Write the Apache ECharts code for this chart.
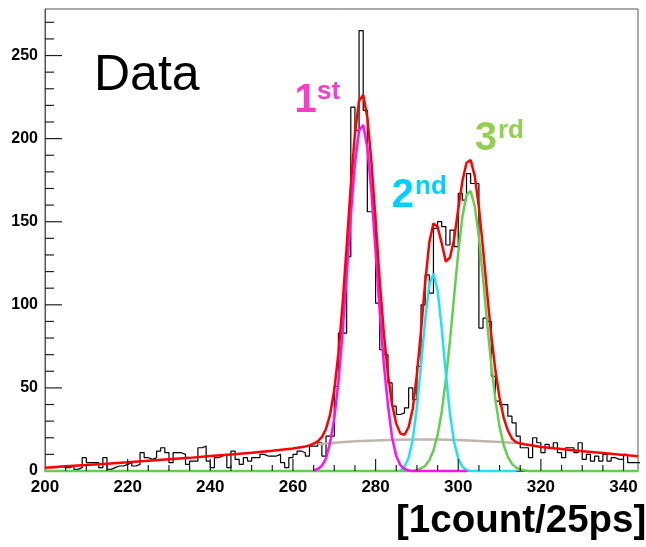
<!DOCTYPE html>
<html>
<head>
<meta charset="utf-8">
<script src="https://cdn.jsdelivr.net/npm/echarts@6/dist/echarts.min.js"></script>
<style>
  html, body { margin: 0; padding: 0; background: #fff; }
  #main { width: 646px; height: 547px; background: #fff; }
</style>
</head>
<body>
<div id="main"></div>
<script>
// Histogram: one count per 1-unit bin, first bin starts at 200
const histStart = 200;
const histCounts = [
  2, 2, 2, 3, 2, 2, 3, 1, 2, 8,        // 200-209
  5, 5, 5, 2, 8, 1, 2, 3, 3, 4,        // 210-219
  5, 3, 4, 11, 8, 7, 8, 12, 14, 11,    // 220-229
  5, 11, 11, 10, 4, 6, 6, 14, 15, 6,   // 230-239
  2, 8, 9, 10, 2, 12, 7, 4, 8, 6,      // 240-249
  8, 8, 10, 9, 9, 9, 10, 5, 2, 8,      // 250-259
  10, 12, 11, 9, 15, 15, 17, 9, 21, 21,// 260-269
  51, 83, 83, 129, 219, 205, 265, 217, 156, 156, // 270-279
  101, 73, 70, 53, 39, 34, 35, 38, 50, 43,       // 280-289
  63, 100, 118, 107, 146, 150, 147, 136, 145, 135, // 290-299
  167, 163, 179, 173, 173, 86, 92, 90, 57, 42,   // 300-309
  40, 40, 33, 29, 21, 14, 14, 8, 20, 17,         // 310-319
  11, 16, 14, 17, 11, 8, 14, 14, 11, 17,         // 320-329
  7, 10, 6, 9, 6, 10, 6, 8, 7, 7,                // 330-339
  10, 5, 5, 5                                    // 340-343
];

// Total fit (red)
const totalX = [200, 205, 210, 215, 220, 225, 230, 235, 240, 245, 250, 255, 260, 263, 264,
  265, 266, 267, 268, 269, 270, 271, 272, 273, 274, 275, 276, 277, 278, 279,
  280, 281, 282, 283, 284, 285, 286, 287, 288, 289, 290, 291, 292, 293, 294,
  295, 296, 297, 298, 299, 300, 301, 302, 303, 304, 305, 306, 307, 308, 309,
  310, 311, 312, 313, 314, 315, 316, 318, 320, 325, 330, 335, 340, 343.5];
const totalY = [2.0, 2.8, 3.6, 4.4, 5.2, 6.1, 7.0, 7.9, 9.0, 10.0, 11.0, 12.2, 13.6, 14.8, 15.4,
  16.5, 17.8, 20.4, 25.3, 34.1, 48.7, 70.6, 100.0, 135.2, 171.7, 203.0, 222.7, 226.3, 212.9, 185.7,
  150.7, 114.6, 82.8, 58.0, 40.0, 28.5, 22.5, 21.8, 26.5, 37.5, 58.3, 84.4, 113.3, 137.6, 149.0,
  147.0, 137.0, 126.0, 128.5, 139.5, 157.5, 174.3, 185.5, 187.1, 177.6, 158.7, 133.8, 106.9, 81.6, 60.3,
  44.1, 32.0, 24.5, 19.5, 17.3, 16.6, 16.1, 15.3, 14.4, 13.2, 11.9, 10.8, 9.7, 8.9];

// Background component (grey)
const bgX = [266, 270, 275, 280, 285, 290, 295, 300, 305, 310, 314];
const bgY = [16.1, 17.0, 17.9, 18.4, 18.8, 19.0, 19.0, 18.6, 18.0, 17.4, 16.8];

// 1st peak (magenta)
const peak1X = [265, 266, 267, 268, 269, 270, 271, 272, 273, 274, 275, 276, 277, 278, 279,
  280, 281, 282, 283, 284, 285, 286, 287, 288, 289, 302];
const peak1Y = [0.3, 1.2, 3.2, 7.5, 17.3, 31.7, 53.4, 82.6, 117.6, 153.9, 185.1, 204.7, 208.2, 194.7, 167.4,
  132.3, 96.1, 64.2, 39.4, 20.0, 9.0, 3.5, 1.2, 0.3, 0, 0];

// 2nd peak (cyan)
const peak2X = [286, 287, 288, 289, 290, 291, 292, 293, 294, 295, 296, 297, 298, 299, 300, 301, 302, 303, 314];
const peak2Y = [0.5, 2.5, 8.0, 19.0, 38.6, 63.9, 91.1, 112.1, 118.9, 108.8, 85.9, 58.5, 34.3, 17.4, 7.6, 2.6, 0.6, 0, 0];

// 3rd peak (green)
const peak3X = [200, 289, 290, 291, 292, 293, 294, 295, 296, 297, 298, 299, 300, 301, 302, 303, 304,
  305, 306, 307, 308, 309, 310, 311, 312, 313, 314, 315, 316, 317, 343.5];
const peak3Y = [0, 0, 0.6, 1.5, 3.2, 6.5, 12.3, 21.7, 35.7, 54.9, 78.6, 105.2, 131.3, 152.9, 166.2, 168.5, 159.4,
  140.7, 115.9, 89.1, 63.9, 42.8, 26.7, 15.5, 8.5, 4.3, 2.0, 0.9, 0.4, 0, 0];

// Tick positions
const xMajorTicks = [220, 240, 260, 280, 300, 320, 340];
const xMinorTicks = [205, 210, 215, 225, 230, 235, 245, 250, 255, 265, 270, 275, 285, 290, 295,
  305, 310, 315, 325, 330, 335];
const yMajorTicks = [50, 100, 150, 200, 250];
const yMinorTicks = [10, 20, 30, 40, 60, 70, 80, 90, 110, 120, 130, 140, 160, 170, 180, 190,
  210, 220, 230, 240, 260, 270];

const zip = (xs, ys) => xs.map((x, i) => [x, ys[i]]);

// step outline: each bin drawn from its left edge, closing point at the last right edge
const histData = histCounts.map((c, i) => [histStart + i, c]);
histData.push([histStart + histCounts.length, histCounts[histCounts.length - 1]]);

const X_MIN = 200, X_MAX = 343.5, Y_MIN = 0, Y_MAX = 278;
const GRID = { left: 45, right: 8, top: 9, bottom: 76 };
const plotW = 646 - GRID.left - GRID.right;
const plotH = 547 - GRID.top - GRID.bottom;
// tick lengths in pixels, turned into axis units
const pxPerX = plotW / (X_MAX - X_MIN);
const pxPerY = plotH / (Y_MAX - Y_MIN);

const frameColor = '#555';
const tickColor = '#222';
const labelFont = { fontFamily: 'Liberation Sans', fontWeight: 'bold', color: '#000' };

function lineSeries(name, data, color, width, z, clip) {
  return {
    name, type: 'line', data, showSymbol: false, symbol: 'none', smooth: false,
    lineStyle: { color, width }, z, clip
  };
}

// inward tick marks, one short segment per tick value
function tickSeries(values, axis, lengthPx) {
  return values.map(v => ({
    type: 'line', showSymbol: false, symbol: 'none', z: 9, clip: false,
    lineStyle: { color: tickColor, width: 1.2 },
    data: axis === 'x'
      ? [[v, Y_MIN], [v, Y_MIN + lengthPx / pxPerY]]
      : [[X_MIN, v], [X_MIN + lengthPx / pxPerX, v]]
  }));
}

function label(text, x, y, size, color, bold) {
  return {
    type: 'text', x, y, z: 20,
    style: {
      text, fontFamily: 'Liberation Sans', fontWeight: bold ? 'bold' : 'normal', fontSize: size,
      fill: color, align: 'left', verticalAlign: 'middle'
    }
  };
}

const chart = echarts.init(document.getElementById('main'));
chart.setOption({
  animation: false,
  grid: Object.assign({ show: true, borderColor: frameColor, borderWidth: 1 }, GRID),
  xAxis: {
    type: 'value', min: X_MIN, max: X_MAX, interval: 20, position: 'bottom',
    axisLine: { show: true, onZero: false, lineStyle: { color: frameColor, width: 1 } },
    axisTick: { show: false },
    axisLabel: Object.assign({ margin: 8, fontSize: 17, formatter: v => (v % 20 === 0 ? String(v) : '') }, labelFont),
    splitLine: { show: false }
  },
  yAxis: {
    type: 'value', min: Y_MIN, max: Y_MAX, interval: 50, position: 'left',
    axisLine: { show: true, onZero: false, lineStyle: { color: frameColor, width: 1 } },
    axisTick: { show: false },
    axisLabel: Object.assign({ margin: 7, fontSize: 16, formatter: v => (v % 50 === 0 ? String(v) : '') }, labelFont),
    splitLine: { show: false }
  },
  series: [].concat(
    tickSeries(xMajorTicks, 'x', 12),
    tickSeries(xMinorTicks, 'x', 6),
    tickSeries(yMajorTicks, 'y', 17),
    tickSeries(yMinorTicks, 'y', 9),
    [
      Object.assign(lineSeries('Data', histData, '#000000', 1.2, 2, true), { step: 'end' }),
      lineSeries('Background', zip(bgX, bgY), '#bfb6ae', 2.5, 3, true),
      lineSeries('3rd', zip(peak3X, peak3Y), '#62d04f', 2.5, 4, false),
      lineSeries('2nd', zip(peak2X, peak2Y), '#1fe3f2', 2.5, 5, false),
      lineSeries('1st', zip(peak1X, peak1Y), '#ff10f0', 2.5, 6, false),
      lineSeries('Total', zip(totalX, totalY), '#ff0000', 2.5, 7, true)
    ]
  ),
  graphic: [
    label('Data', 94, 76.5, 50, '#000', false),
    label('1', 294.5, 101, 40, '#fb3cc6', true),
    label('st', 317, 92, 26, '#fb3cc6', true),
    label('2', 391.8, 196, 40, '#00d0ff', true),
    label('nd', 415, 187, 26, '#00d0ff', true),
    label('3', 474.8, 138.5, 40, '#92d050', true),
    label('rd', 498, 130.5, 26, '#92d050', true),
    label('[1count/25ps]', 396, 521, 38.5, '#000', true)
  ]
});
</script>
</body>
</html>
